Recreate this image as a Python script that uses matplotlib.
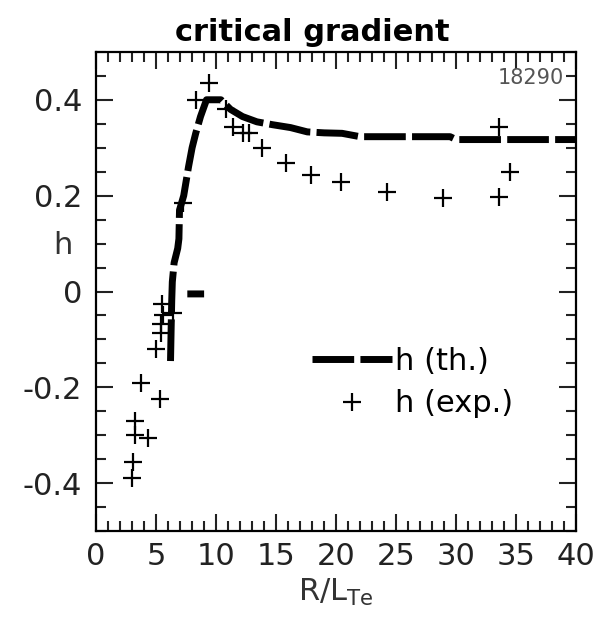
import matplotlib
matplotlib.use("Agg")
import matplotlib.pyplot as plt
from matplotlib.ticker import MultipleLocator
import numpy as np

plt.rcParams['font.family'] = ['DejaVu Sans']
plt.rcParams['mathtext.fontset'] = 'dejavusans'
plt.rcParams['axes.unicode_minus'] = False

# theoretical h (thick dashed line); nan splits off the short piece near h=0
th_x = [6.2, 6.25, 6.3, 6.35, 6.5, 6.8, 6.9, 6.95, 7.3, 7.5, 7.7, 8.0, 8.3, 8.7, 9.2,
        10.4, 11.2, 12.2, 13.4, 14.7, 16.2, 17.6, 19.0, 20.5, 22.0, 29.5, 30.0, 40.0,
        np.nan, 7.6, 9.0]
th_h = [-0.145, -0.08, -0.02, 0.02, 0.06, 0.09, 0.11, 0.17, 0.20, 0.23, 0.26, 0.30, 0.33, 0.365, 0.40,
        0.40, 0.38, 0.365, 0.354, 0.348, 0.342, 0.333, 0.331, 0.33, 0.323, 0.323, 0.317, 0.317,
        np.nan, -0.005, -0.005]

# measured h (plus markers)
exp_x = [3.0, 3.1, 3.25, 3.25, 4.3, 3.7, 5.3, 5.0, 5.4, 5.4, 5.6, 5.5, 6.4, 7.2,
         8.3, 9.4, 10.8, 11.4, 12.2, 12.7, 13.8, 15.8, 17.9, 20.4, 24.2,
         28.9, 33.6, 34.5, 33.6]
exp_h = [-0.39, -0.355, -0.30, -0.27, -0.305, -0.19, -0.225, -0.12, -0.086, -0.067, -0.05, -0.025, -0.045, 0.185,
         0.40, 0.434, 0.38, 0.344, 0.331, 0.331, 0.30, 0.268, 0.243, 0.228, 0.208,
         0.195, 0.197, 0.25, 0.344]

fig = plt.figure(figsize=(5.97, 6.40), dpi=100)
ax = fig.add_axes([0.161, 0.170, 0.804, 0.749])

ax.plot(th_x, th_h, color='black', lw=5, linestyle=(0, (6, 0.9)),
        solid_capstyle='butt', dash_capstyle='butt', label='h (th.)')
ax.plot(exp_x, exp_h, linestyle='none', marker='+', color='black',
        markersize=13, markeredgewidth=1.6, label='h (exp.)')

ax.set_xlim(0, 40)
ax.set_ylim(-0.5, 0.5)
ax.xaxis.set_major_locator(MultipleLocator(5))
ax.xaxis.set_minor_locator(MultipleLocator(1))
ax.yaxis.set_minor_locator(MultipleLocator(0.05))
ax.set_yticks([-0.4, -0.2, 0, 0.2, 0.4])
ax.set_yticklabels(['-0.4', '-0.2', '0', '0.2', '0.4'])

ax.tick_params(which='both', direction='in', top=True, right=True, width=1.5,
               labelsize=22, color='#222222', labelcolor='#222222')
ax.tick_params(which='major', length=12)
ax.tick_params(which='minor', length=7)
ax.tick_params(axis='x', pad=8)
ax.tick_params(axis='y', pad=10)
for s in ax.spines.values():
    s.set_linewidth(1.6)

ax.set_title('critical gradient', fontsize=22, fontweight='bold', pad=8, x=0.45)
ax.set_xlabel(r'R/L$_{\mathrm{Te}}$', fontsize=22, labelpad=4, color='#333333')
ax.set_ylabel('h', fontsize=22, rotation=0, color='#333333')
ax.yaxis.set_label_coords(-0.07, 0.565)

ax.text(0.975, 0.945, '18290', transform=ax.transAxes, ha='right', va='center',
        fontsize=15, color='#555555')

ax.legend(loc='center left', bbox_to_anchor=(0.45, 0.31), frameon=False, fontsize=22,
          handlelength=2.6, handletextpad=0.1, labelspacing=0.45, borderpad=0,
          borderaxespad=0)

fig.savefig('out.png', dpi=100)
